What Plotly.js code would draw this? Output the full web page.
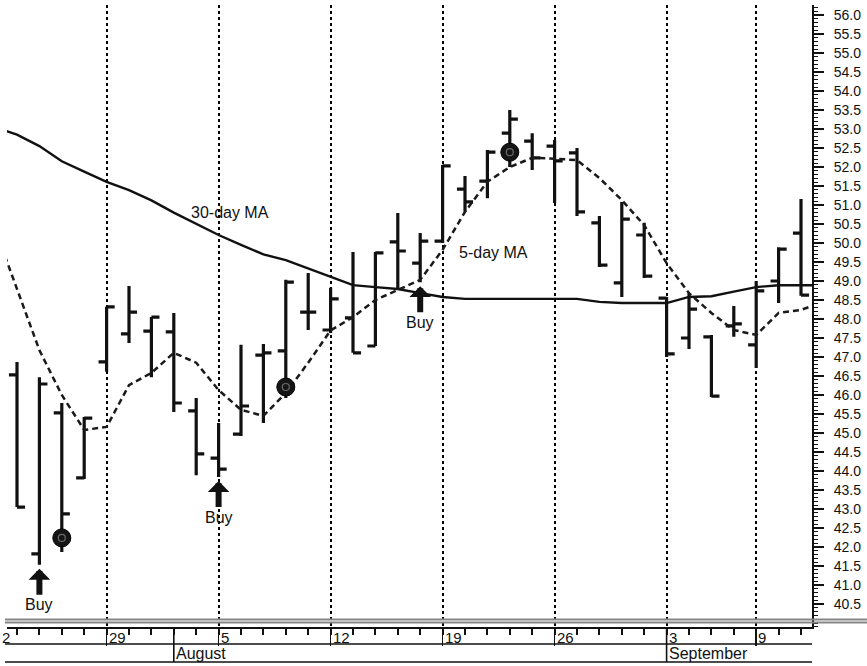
<!DOCTYPE html>
<html>
<head>
<meta charset="utf-8">
<script src="https://cdn.plot.ly/plotly-3.0.1.min.js"></script>
<style>
html,body{margin:0;padding:0;background:#fff;}
#chart{width:867px;height:666px;}
</style>
</head>
<body>
<div id="chart"></div>
<script>
// ---- data ----
const dates = ["2002-07-23","2002-07-24","2002-07-25","2002-07-26",
  "2002-07-29","2002-07-30","2002-07-31","2002-08-01","2002-08-02",
  "2002-08-05","2002-08-06","2002-08-07","2002-08-08","2002-08-09",
  "2002-08-12","2002-08-13","2002-08-14","2002-08-15","2002-08-16",
  "2002-08-19","2002-08-20","2002-08-21","2002-08-22","2002-08-23",
  "2002-08-26","2002-08-27","2002-08-28","2002-08-29","2002-08-30",
  "2002-09-03","2002-09-04","2002-09-05","2002-09-06",
  "2002-09-09","2002-09-10","2002-09-11"];
const openP  = [46.53,41.82,45.53,43.82, 46.87,47.61,47.68,47.66,45.58, 44.34,44.97,47.05,47.16,48.18,
  47.71,48.03,47.29,50.03,49.47, 50.05,51.42,51.63,52.89,52.68, 52.55,52.37,50.53,48.95,50.21,
  48.55,47.50,47.53,47.82, 47.32,49.00,50.26];
const highP  = [46.87,46.47,45.79,45.42, 48.32,48.87,48.05,48.16,45.92, 45.26,47.32,47.34,49.03,49.21,
  48.82,49.76,49.76,50.79,50.26, 52.05,51.76,52.45,53.50,52.89, 52.71,52.50,50.71,51.08,50.53,
  48.58,48.68,47.58,48.34, 49.00,49.89,51.16];
const lowP   = [43.05,41.53,41.87,43.79, 46.61,47.37,46.47,45.55,43.89, 43.84,44.92,45.26,45.92,47.71,
  47.63,47.11,47.29,48.76,48.97, 50.00,50.82,51.18,52.00,51.92, 51.05,50.71,49.37,48.58,49.08,
  47.00,47.21,45.95,47.53, 46.71,48.42,48.61];
const closeP = [43.05,46.29,42.87,45.39, 48.32,48.18,48.05,45.79,44.45, 44.05,45.71,47.11,48.97,48.18,
  48.53,47.11,49.74,49.79,50.05, 52.03,51.08,52.39,53.26,52.24, 52.16,50.82,49.42,50.63,49.13,
  47.08,48.26,45.97,47.87, 48.74,49.84,48.63];

// moving averages (one day before and one day after the bars, where the lines run to the frame)
const maDates = ["2002-07-22"].concat(dates).concat(["2002-09-12"]);
const ma5  = [50.40, 48.78,47.18,46.00,45.08, 45.16,46.26,46.58,47.11,46.85, 46.13,45.61,45.45,46.05,46.85,
  47.70,48.05,48.50,48.76,49.03, 49.82,50.82,51.61,52.00,52.24, 52.22,52.18,51.71,51.13,50.47,
  49.47,48.68,48.16,47.71, 47.58,48.16,48.24, 48.45];
const ma30 = [53.05, 52.85,52.55,52.15,51.88, 51.61,51.39,51.12,50.80,50.50, 50.21,49.95,49.70,49.55,49.33,
  49.11,48.89,48.84,48.79,48.68, 48.58,48.53,48.53,48.53,48.53, 48.53,48.53,48.45,48.42,48.42,
  48.42,48.58,48.60,48.72, 48.84,48.89,48.89, 48.89];

// week row: the first label is only partly in the frame; its visible digit is "2"
const weekLabels = ["2","29","5","12","19","26","3","9"];
const weekStarts = ["2002-07-22","2002-07-29","2002-08-05","2002-08-12","2002-08-19","2002-08-26","2002-09-03","2002-09-09"];
const monthLabels = ["August","September"];
const monthStarts = ["2002-08-01","2002-09-03"];

const buyDates = ["2002-07-24","2002-08-05","2002-08-16"];
const buyLabel = "Buy";
const markDates = ["2002-07-25","2002-08-08","2002-08-22"];
const markValues = [42.24, 46.21, 52.39];

const yTicks = [40.5,41.0,41.5,42.0,42.5,43.0,43.5,44.0,44.5,45.0,45.5,46.0,46.5,47.0,47.5,48.0,
  48.5,49.0,49.5,50.0,50.5,51.0,51.5,52.0,52.5,53.0,53.5,54.0,54.5,55.0,55.5,56.0];

const maLabels = [{text:"30-day MA", x:9.51, y:50.79},{text:"5-day MA", x:21.25, y:49.74}];

// ---- trading-day positions ----
function pos(d){
  const k = dates.indexOf(d);
  if (k >= 0) return k;
  return d < dates[0] ? -1 : dates.length;
}
const dayX = dates.map(pos);
const maX = maDates.map(pos);
const weekX = weekStarts.map(pos);
const monthX = monthStarts.map(pos);

const FONT = "Liberation Sans, Arial, Helvetica, sans-serif";
const INK = "#111";

// layout geometry: plot area from y=5 to y=627 px, x=7 to 812 px
const PT = 5, PB = 627, PH = PB - PT;
function py(px){ return (PB - px) / PH; }
const xMin = -0.4464, xMax = 35.491;

const traces = [
  {type:"scatter", mode:"lines", x:maX, y:ma30, line:{color:INK, width:2.4}, hoverinfo:"skip"},
  {type:"scatter", mode:"lines", x:maX, y:ma5, line:{color:"#1a1a1a", width:2.5, dash:"6px,4px"}, hoverinfo:"skip"},
  {type:"ohlc", x:dayX, open:openP, high:highP, low:lowP, close:closeP,
   increasing:{line:{color:INK, width:3.2}}, decreasing:{line:{color:INK, width:3.2}},
   tickwidth:0.36, hoverinfo:"skip"},
  {type:"scatter", mode:"markers", x:markDates.map(pos), y:markValues,
   marker:{symbol:"circle", size:18, color:"#151515", line:{color:"#000", width:1}}, hoverinfo:"skip"},
  {type:"scatter", mode:"markers", x:markDates.map(pos), y:markValues,
   marker:{symbol:"circle-open", size:7, color:"#6a6a6a", line:{width:1.2}}, hoverinfo:"skip"}
];

const annotations = [];
maLabels.forEach(m => annotations.push({xref:"x", yref:"y", x:m.x, y:m.y, text:m.text, showarrow:false,
  font:{family:FONT, size:16, color:INK}}));
buyDates.forEach(d => {
  const k = pos(d);
  annotations.push({xref:"x", yref:"y", x:k, y:lowP[k], text:buyLabel, showarrow:true,
    ax:0, ay:40, arrowhead:1, arrowwidth:6, arrowsize:0.6, arrowcolor:INK, standoff:4,
    font:{family:FONT, size:16, color:INK}});
});
weekLabels.forEach((t, j) => {
  const wx = weekX[j];
  if (wx >= xMin) {
    annotations.push({xref:"x", yref:"paper", x:wx, y:py(637.5), xanchor:"left", yanchor:"middle",
      text:t, showarrow:false, font:{family:FONT, size:15, color:INK}});
  } else {
    annotations.push({xref:"paper", yref:"paper", x:0, y:py(637.5), xanchor:"right", yanchor:"middle",
      xshift:5, text:t, showarrow:false, font:{family:FONT, size:15, color:INK}});
  }
});
monthLabels.forEach((t, j) => {
  annotations.push({xref:"x", yref:"paper", x:monthX[j], y:py(653), xanchor:"left", yanchor:"middle",
    text:t, showarrow:false, font:{family:FONT, size:16, color:INK}});
});

const shapes = [
  {type:"line", xref:"paper", yref:"paper", x0:-0.0025, x1:1.0683, y0:py(619.5), y1:py(619.5), line:{color:"#858585", width:2}},
  {type:"line", xref:"paper", yref:"paper", x0:-0.0025, x1:1.0683, y0:py(622.5), y1:py(622.5), line:{color:"#858585", width:2}},
  {type:"line", xref:"paper", yref:"paper", x0:-0.0025, x1:1.0, y0:py(644), y1:py(644), line:{color:INK, width:1.6}},
  {type:"line", xref:"paper", yref:"paper", x0:-0.0025, x1:1.0, y0:py(662), y1:py(662), line:{color:INK, width:1.6}}
];
monthX.forEach(mx => shapes.push({type:"line", xref:"x", yref:"paper", x0:mx, x1:mx, y0:0, y1:py(662),
  line:{color:INK, width:1.6}}));

const layout = {
  width:867, height:666,
  margin:{l:7, r:55, t:PT, b:666-PB, pad:0},
  paper_bgcolor:"#fff", plot_bgcolor:"#fff",
  showlegend:false,
  font:{family:FONT, color:INK},
  xaxis:{
    type:"linear", range:[xMin, xMax], fixedrange:true, rangeslider:{visible:false},
    showline:true, linecolor:INK, linewidth:1.6,
    tickmode:"array", tickvals:weekX.filter(v => v >= 0), showticklabels:false,
    ticks:"outside", ticklen:17, tickwidth:1.6, tickcolor:INK,
    showgrid:true, gridcolor:"#000", griddash:"dot", gridwidth:2, zeroline:false,
    minor:{tickmode:"array", tickvals:dayX, ticks:"outside", ticklen:6, tickwidth:2, tickcolor:INK, showgrid:false}
  },
  yaxis:{
    side:"right", range:[39.895, 56.263], fixedrange:true,
    showline:true, linecolor:INK, linewidth:2,
    tickmode:"array", tickvals:yTicks, ticktext:yTicks.map(v => v.toFixed(1)),
    ticks:"outside", ticklen:10, tickwidth:1.5, tickcolor:INK,
    ticklabelstandoff:7,
    tickfont:{family:FONT, size:14, color:INK},
    showgrid:false, zeroline:false,
    minor:{tickmode:"linear", tick0:40, dtick:0.1, ticks:"outside", ticklen:4, tickwidth:1, tickcolor:INK, showgrid:false}
  },
  annotations:annotations,
  shapes:shapes
};

Plotly.newPlot("chart", traces, layout, {displayModeBar:false, staticPlot:true});
</script>
</body>
</html>
